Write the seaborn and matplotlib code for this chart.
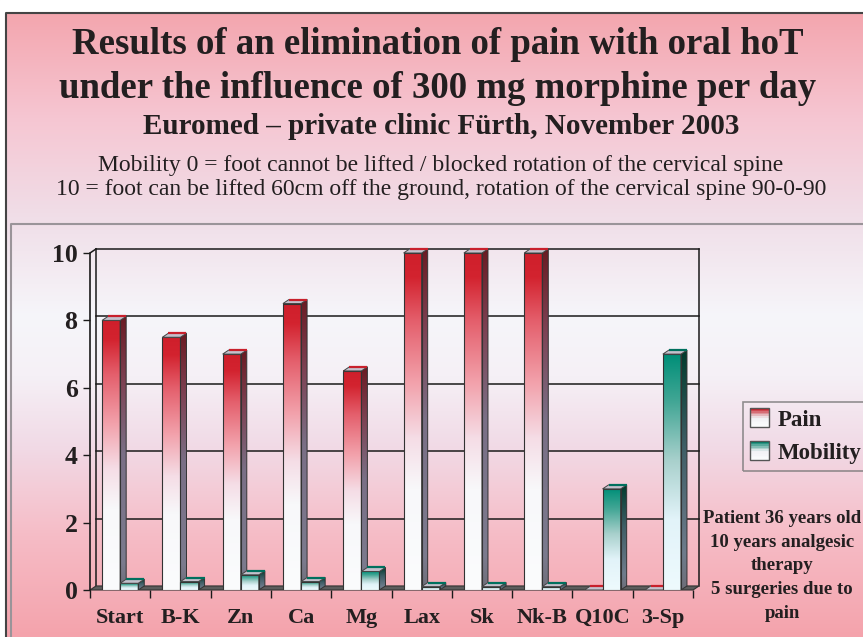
import numpy as np
import pandas as pd
import matplotlib
matplotlib.use("Agg")
import matplotlib.pyplot as plt
from matplotlib.patches import Polygon, Rectangle
from matplotlib.legend_handler import HandlerBase
import seaborn as sns

plt.rcParams["font.family"] = ["Liberation Serif", "DejaVu Serif"]

# ---------------------------------------------------------------------
# DATA
# ---------------------------------------------------------------------
categories = ["Start", "B-K", "Zn", "Ca", "Mg", "Lax", "Sk", "Nk-B", "Q10C", "3-Sp"]
pain = [8, 7.5, 7, 8.5, 6.5, 10, 10, 10, 0, 0]
mobility = [0.2, 0.25, 0.45, 0.25, 0.55, 0.1, 0.1, 0.1, 3, 7]
series = ["Pain", "Mobility"]
yticks = [0, 2, 4, 6, 8, 10]

title_lines = ["Results of an elimination of pain with oral hoT",
               "under the influence of 300 mg morphine per day"]
subtitle = "Euromed \u2013 private clinic F\u00fcrth, November 2003"
note_lines = ["Mobility 0 = foot cannot be lifted / blocked rotation of the cervical spine",
              "10 = foot can be lifted 60cm off the ground, rotation of the cervical spine 90-0-90"]
patient_text = "Patient 36 years old\n10 years analgesic\ntherapy\n5 surgeries due to\npain"

df = pd.DataFrame({
    "category": categories * 2,
    "value": pain + mobility,
    "series": ["Pain"] * len(categories) + ["Mobility"] * len(categories),
})

# colour stops (fraction of bar height -> colour)
FRONT = {
    "Pain": [(0.0, "#fbfcfd"), (0.3, "#f8f8fa"), (0.45, "#f5dde6"), (0.62, "#f2a0aa"),
             (0.8, "#e45f6c"), (0.93, "#d3232f"), (1.0, "#cf1f2b")],
    "Mobility": [(0.0, "#eefafd"), (0.3, "#e2f3f9"), (0.55, "#a8d0cc"), (0.8, "#42a695"),
                 (1.0, "#008f78")],
}
SIDE = {
    "Pain": [(0.0, "#6e6e78"), (0.1, "#7c7b8e"), (0.5, "#7a6f86"), (0.75, "#7e4456"), (1.0, "#6a1a22")],
    "Mobility": [(0.0, "#6e6e78"), (0.15, "#6f7c8c"), (0.6, "#3f5e66"), (1.0, "#003a2c")],
}
EDGE_TOP = {"Pain": "#c8202c", "Mobility": "#00705e"}
LEGEND_TOP = {"Pain": "#c8202c", "Mobility": "#00806a"}

DX, DY = 0.1, 0.12   # depth offset in data units


def grad(stops, n=256):
    pos = np.array([s[0] for s in stops])
    cols = np.array([matplotlib.colors.to_rgb(s[1]) for s in stops])
    t = np.linspace(0, 1, n)
    arr = np.stack([np.interp(t, pos, cols[:, k]) for k in range(3)], axis=-1)
    return arr[:, None, :]


W, H = 863, 637
fig = plt.figure(figsize=(W / 100, H / 100), dpi=100)

# ---------------------------------------------------------------------
# BACKGROUND PANEL
# ---------------------------------------------------------------------
bg = fig.add_axes([0, 0, 1, 1])
bg.set_xlim(0, W)
bg.set_ylim(H, 0)
bg.axis("off")
bg_stops = [(0, "#f4a3ac"), (100 / H, "#f6bcc6"), (190 / H, "#f1dae6"), (260 / H, "#f5f0f6"),
            (320 / H, "#f6f6fa"), (420 / H, "#f0dee8"), (520 / H, "#f6c6d2"), (1.0, "#f3a2aa")]
bg.imshow(grad(bg_stops)[::-1], extent=[0, W, H, 0], aspect="auto", zorder=0)
bg.add_patch(Rectangle((0, 0), W, 12, color="white", zorder=1))
bg.add_patch(Rectangle((0, 0), 5, H, color="white", zorder=1))
bg.plot([5.5, 5.5, W], [H, 12.5, 12.5], color="#444444", lw=1.5, zorder=2)
bg.plot([11, 11, W], [H, 224, 224], color="#9a9499", lw=1.5, zorder=2)

cx = 438
bg.text(cx, 45, title_lines[0], ha="center", va="center", fontsize=26.5, fontweight="bold", color="#231f20")
bg.text(cx, 88, title_lines[1], ha="center", va="center", fontsize=26.5, fontweight="bold", color="#231f20")
bg.text(cx + 3, 127, subtitle, ha="center", va="center", fontsize=21, fontweight="bold", color="#231f20")
bg.text(cx + 3, 165, note_lines[0], ha="center", va="center", fontsize=17, color="#231f20")
bg.text(cx + 3, 190, note_lines[1], ha="center", va="center", fontsize=17, color="#231f20")
bg.text(782, 566, patient_text, ha="center", va="center", fontsize=13.5, fontweight="bold",
        color="#231f20", linespacing=1.52)

# ---------------------------------------------------------------------
# MAIN CHART
# ---------------------------------------------------------------------
px_per_unit = 33.7
ymax = 10.5
ax = fig.add_axes([90 / W, (H - 590) / H, 603 / W, ymax * px_per_unit / H])
ax.set_zorder(2)
ax.patch.set_alpha(0)

sns.barplot(data=df, x="category", y="value", hue="series", order=categories,
            hue_order=series, width=0.6, errorbar=None, legend=False, ax=ax,
            palette=["#cf1f2b", "#008f78"])

for k, (name, cont) in enumerate(zip(series, ax.containers)):
    z = 3 + k
    for rect in cont.patches:
        x0 = rect.get_x()
        w = rect.get_width()
        h = rect.get_height()
        x1 = x0 + w
        rect.set_visible(False)
        if h > 0:
            ax.imshow(grad(FRONT[name]), origin="lower", extent=[x0, x1, 0, h],
                      aspect="auto", interpolation="bilinear", zorder=z)
            ax.add_patch(Rectangle((x0, 0), w, h, facecolor="none", edgecolor="#333333",
                                   lw=0.8, zorder=z + 0.05))
            side = Polygon([(x1, 0), (x1 + DX, DY), (x1 + DX, h + DY), (x1, h)], closed=True,
                           facecolor="none", edgecolor="#333333", lw=0.7, zorder=z + 0.06)
            ax.add_patch(side)
            im = ax.imshow(grad(SIDE[name]), origin="lower", extent=[x1, x1 + DX, 0, h + DY],
                           aspect="auto", interpolation="bilinear", zorder=z + 0.01)
            im.set_clip_path(side)
        top = Polygon([(x0, h), (x1, h), (x1 + DX, h + DY), (x0 + DX, h + DY)], closed=True,
                      facecolor="#c4c0cc", edgecolor="#444444", lw=0.7, zorder=z + 0.07)
        ax.add_patch(top)
        ax.plot([x0 + DX, x1 + DX], [h + DY, h + DY], color=EDGE_TOP[name], lw=1.6,
                zorder=z + 0.08, solid_capstyle="butt")

xl, xr = -0.5, len(categories) - 0.5
ax.set_xlim(xl, xr)
ax.set_ylim(0, ymax)

# back wall grid, floor and frame
for v in yticks[1:]:
    ax.plot([xl + DX, xr + DX], [v + DY, v + DY], color="#1a1a1a", lw=1.1, zorder=1,
            clip_on=False)
ax.plot([xl + DX, xl + DX], [DY, yticks[-1] + DY], color="#1a1a1a", lw=1.1, zorder=1)
ax.plot([xr + DX, xr + DX], [DY, yticks[-1] + DY], color="#1a1a1a", lw=1.1, zorder=1,
        clip_on=False)
ax.plot([xl, xl + DX], [yticks[-1], yticks[-1] + DY], color="#1a1a1a", lw=1.1, zorder=1)
ax.add_patch(Polygon([(xl, 0), (xr, 0), (xr + DX, DY), (xl + DX, DY)], closed=True,
                     facecolor="#5c5c5c", edgecolor="#333333", lw=0.8, zorder=1.5,
                     clip_on=False))

for s in ["top", "right", "bottom"]:
    ax.spines[s].set_visible(False)
ax.spines["left"].set_bounds(0, yticks[-1])
ax.spines["left"].set_linewidth(1.2)
ax.spines["left"].set_color("#1a1a1a")

ax.set_yticks(yticks)
ax.set_yticklabels([str(t) for t in yticks], fontsize=18.5, fontweight="bold", color="#231f20")
ax.tick_params(axis="y", length=5, width=1, pad=4, color="#1a1a1a")
ax.set_xticks(range(len(categories)))
ax.set_xticklabels(categories, fontsize=16, fontweight="bold", color="#231f20")
ax.set_xticks(np.arange(len(categories) + 1) - 0.5, minor=True)
ax.tick_params(axis="x", which="major", length=0, pad=13)
ax.tick_params(axis="x", which="minor", length=6, width=1, color="#1a1a1a")
ax.set_xlabel("")
ax.set_ylabel("")


# ---------------------------------------------------------------------
# LEGEND with gradient squares
# ---------------------------------------------------------------------
class GradHandler(HandlerBase):
    def __init__(self, name):
        super().__init__()
        self.name = name

    def create_artists(self, legend, orig_handle, xdescent, ydescent, width, height,
                       fontsize, trans):
        side = height * 1.1
        x0 = -xdescent + (width - side) / 2
        y0 = -ydescent - 0.05 * height
        cols = grad([(0, "#fbfcfd"), (0.5, "#f0f0f4"), (1, LEGEND_TOP[self.name])], n=12)[:, 0, :]
        arts = []
        n = len(cols)
        for i, c in enumerate(cols):
            arts.append(Rectangle((x0, y0 + i * side / n), side, side / n + 0.3,
                                  facecolor=c, edgecolor="none", transform=trans))
        arts.append(Rectangle((x0, y0), side, side, facecolor="none", edgecolor="#555555",
                              lw=1, transform=trans))
        return arts


handles = [Rectangle((0, 0), 1, 1) for _ in series]
leg = fig.legend(handles, series, loc="upper left", bbox_to_anchor=(743 / W, 1 - 402 / H),
                 handler_map={h: GradHandler(n) for h, n in zip(handles, series)},
                 frameon=True, fancybox=False, borderaxespad=0, handlelength=0.85,
                 handleheight=0.8, handletextpad=0.35, labelspacing=0.5, borderpad=0.3,
                 prop={"size": 16.5, "weight": "bold"})
leg.get_frame().set_edgecolor("#777777")
leg.get_frame().set_facecolor("none")
leg.get_frame().set_linewidth(1.2)
for t in leg.get_texts():
    t.set_color("#231f20")

fig.savefig("out.png", dpi=100)
